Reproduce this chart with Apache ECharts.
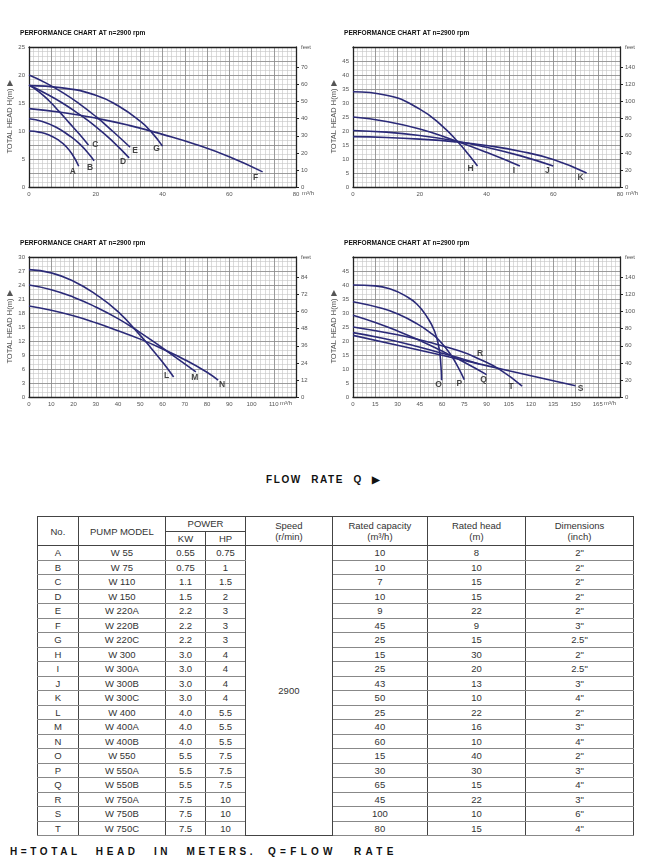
<!DOCTYPE html>
<html><head><meta charset="utf-8">
<script src="https://cdn.jsdelivr.net/npm/echarts@6/dist/echarts.min.js"></script>
<style>
html,body{margin:0;padding:0;background:#fff;width:650px;height:867px;overflow:hidden;}
#chart{position:absolute;left:0;top:0;width:650px;height:470px;}
.cap{position:absolute;font-family:'Liberation Sans',Arial,sans-serif;font-weight:bold;color:#111;white-space:nowrap;}
#flow{left:266px;top:474px;font-size:10px;letter-spacing:1.6px;word-spacing:5px;}
#foot1{left:10px;top:846px;font-size:10px;letter-spacing:3.6px;word-spacing:9px;}
#foot2{left:268px;top:846px;font-size:10px;letter-spacing:4.3px;word-spacing:10px;}
#tbl{position:absolute;left:37px;top:516px;width:596px;border-collapse:collapse;table-layout:fixed;
 font-family:'Liberation Sans',Arial,sans-serif;font-size:9.5px;color:#333;border:1.5px solid #333;}
#tbl td{padding:0;text-align:center;height:13.5px;line-height:13px;border-left:1px solid #444;border-right:1px solid #444;border-top:1.5px solid #888;border-bottom:1.5px solid #888;}
#tbl tr.h td{border-top:1px solid #444;border-bottom:1px solid #444;line-height:11px;}
#tbl td.sp{border-top:1px solid #444;border-bottom:1px solid #444;}
</style></head><body>
<div id="chart"></div>
<div id="flow" class="cap">FLOW RATE Q ▶</div>
<table id="tbl"></table>
<div id="foot1" class="cap">H=TOTAL HEAD IN METERS.</div>
<div id="foot2" class="cap">Q=FLOW RATE</div>
<script>
// ---------------- data: pump curves [flow m3/h, head m] ----------------
const curveA = [[0,10],[3,9.8],[6,9.3],[9,8.3],[11,7.3],[13,5.8],[14.9,3.7]];
const curveB = [[0,12.2],[4,11.7],[8,10.7],[12,9.2],[15,7.8],[17.5,6.2],[19.5,4.7]];
const curveC = [[0,18.2],[3,17],[6,15.4],[9,13.5],[12,11.5],[15,9.5],[17.8,7.5]];
const curveD = [[0,18.2],[5,16.7],[10,15],[15,13],[20,10.8],[25,8.2],[30,5.2]];
const curveE = [[0,20],[5,18.6],[10,16.9],[15,14.9],[20,12.6],[25,10],[30.3,7.1]];
const curveF = [[0,14],[10,13.3],[20,12.3],[30,11],[40,9.4],[50,7.6],[60,5.4],[70,2.7]];
const curveG = [[0,18.1],[10,17.7],[20,16.4],[26.7,14.5],[33.4,11.7],[36.7,9.8],[40,7.3]];
const curveH = [[0,34],[10,32.8],[20,27.8],[27,21.5],[31.5,16],[34.5,11.8],[37.3,7.5]];
const curveI = [[0,25],[10,23.4],[20,20.7],[30,16.8],[40,12.4],[50,7.5]];
const curveJ = [[0,20.2],[10,19.6],[20,18.4],[30,16.6],[40,14.2],[50,11.2],[60,7.5]];
const curveK = [[0,18],[10,17.7],[20,17.1],[30,16.2],[40,14.8],[50,12.8],[60,9.8],[70,5]];
const curveL = [[0,27.3],[10,26.6],[20,24.8],[30,22],[40,18.3],[50,13.2],[55,10.4],[60,7.5],[65,4.3]];
const curveM = [[0,24],[10,23],[20,21.4],[30,19.3],[40,16.8],[50,13.8],[60,10.5],[70,7.1],[75,5.4]];
const curveN = [[0,19.5],[10,18.6],[20,17.4],[30,15.9],[40,14.2],[50,12.4],[60,10.3],[70,8],[80,5.3],[85,3.6]];
const curveO = [[0,40],[15,39.7],[27,38.2],[35,36.2],[43,33.2],[50,28.5],[55,23.5],[58,17.5],[59.3,11],[59.7,6]];
const curveP = [[0,34],[20,31.6],[30,29.7],[43,26.2],[52,23],[58.5,20],[66,15],[71,10.5],[75,6.2]];
const curveQ = [[0,29.2],[15,26.6],[30,23.6],[45,20.2],[60,16.4],[75,12.4],[90,8]];
const curveR = [[0,23],[20,21],[40,18.5],[60,15.6],[75,13.4],[85,11.8]];
const curveS = [[0,22],[30,18.5],[60,14.9],[90,11.2],[120,7.6],[150,4]];
const curveT = [[0,25],[30,22.2],[50,19.7],[72,16.4],[85,13.6],[99,9.8],[114,3.9]];

// ---------------- data: axes ----------------
const panel1Curves = ['A','B','C','D','E','F','G'];
const panel2Curves = ['H','I','J','K'];
const panel3Curves = ['L','M','N'];
const panel4Curves = ['O','P','Q','R','S','T'];
const flowMax = [80, 80, 120, 180];
const flowStep = [20, 20, 10, 15];
const headMax = [25, 50, 30, 50];
const headStep = [5, 5, 3, 5];
const feetTicks1 = [0,10,20,30,40,50,60,70];
const feetTicks2 = [0,20,40,60,80,100,120,140];
const feetTicks3 = [0,12,24,36,48,60,72,84];
const feetTicks4 = [0,20,40,60,80,100,120,140];
const M_TO_FT = 3.28084;

// ---------------- data: table ----------------
const tableNo = ['A','B','C','D','E','F','G','H','I','J','K','L','M','N','O','P','Q','R','S','T'];
const tableModel = ['W 55','W 75','W 110','W 150','W 220A','W 220B','W 220C','W 300','W 300A','W 300B','W 300C','W 400','W 400A','W 400B','W 550','W 550A','W 550B','W 750A','W 750B','W 750C'];
const tableKW = ['0.55','0.75','1.1','1.5','2.2','2.2','2.2','3.0','3.0','3.0','3.0','4.0','4.0','4.0','5.5','5.5','5.5','7.5','7.5','7.5'];
const tableHP = ['0.75','1','1.5','2','3','3','3','4','4','4','4','5.5','5.5','5.5','7.5','7.5','7.5','10','10','10'];
const tableSpeed = '2900';
const tableCapacity = [10,10,7,10,9,45,25,15,25,43,50,25,40,60,15,30,65,45,100,80];
const tableHead = [8,10,15,15,22,9,15,30,20,13,10,22,16,10,40,30,15,22,10,15];
const tableDim = ['2"','2"','2"','2"','2"','3"','2.5"','2"','2.5"','3"','4"','2"','3"','4"','2"','3"','4"','3"','6"','4"'];

// ---------------- styles / layout ----------------
const curves = {A:curveA,B:curveB,C:curveC,D:curveD,E:curveE,F:curveF,G:curveG,H:curveH,I:curveI,J:curveJ,K:curveK,
  L:curveL,M:curveM,N:curveN,O:curveO,P:curveP,Q:curveQ,R:curveR,S:curveS,T:curveT};
const labelOffset = {A:[-6,5],B:[-4,7],C:[7,0],D:[-6,4],E:[5,3],F:[-7,6],G:[-6,3],
  H:[-7,3],I:[-6,5],J:[-6,5],K:[-6,5],L:[-7,-1],M:[-1,6],N:[4,4],
  O:[-3,4],P:[-5,4],Q:[-3,5],R:[1,-10],S:[5,3],T:[-11,1]};
const panelCurves = [panel1Curves, panel2Curves, panel3Curves, panel4Curves];
const feetTicks = [feetTicks1, feetTicks2, feetTicks3, feetTicks4];
const pos = [[29,47],[353,47],[29,257],[353,257]];
const PW = 267, PH = 140;
const LINE = '#2b2a78';
const FONT = "'Liberation Sans', Arial, sans-serif";

const grid = [], xAxis = [], yAxis = [], series = [], graphic = [];
for (let p = 0; p < 4; p++) {
  const [l, t] = pos[p];
  grid.push({left:l, top:t, width:PW, height:PH, outerBoundsMode:'none', show:false});
  const xb = xAxis.length, yb = yAxis.length;
  const hideMaxX = flowMax[p] > 80;
  xAxis.push({gridIndex:p, type:'value', min:0, max:flowMax[p], interval:flowStep[p], position:'bottom',
    axisLine:{show:true, onZero:false, lineStyle:{color:'#222', width:1.3}}, axisTick:{show:false}, splitLine:{show:false},
    axisLabel:{fontSize:6, color:'#555', margin:4, fontFamily:FONT, showMaxLabel:!hideMaxX}, z:3});
  xAxis.push({gridIndex:p, type:'value', min:0, max:60, interval:1, axisLine:{show:false}, axisTick:{show:false}, axisLabel:{show:false},
    splitLine:{show:true, lineStyle:{color:'#c4c4c4', width:0.6}}, z:0});
  xAxis.push({gridIndex:p, type:'value', min:0, max:12, interval:1, position:'top', axisLine:{show:true, onZero:false, lineStyle:{color:'#222', width:1.3}},
    axisTick:{show:false}, axisLabel:{show:false}, splitLine:{show:true, lineStyle:{color:'#8a8a8a', width:0.8}}, z:1});
  const hideMaxY = headMax[p] === 50;
  yAxis.push({gridIndex:p, type:'value', min:0, max:headMax[p], interval:headStep[p], position:'left',
    name:'TOTAL HEAD H(m) \u25B6', nameLocation:'middle', nameGap:10, nameRotate:90,
    nameTextStyle:{fontSize:7.5, color:'#555', fontFamily:FONT},
    axisLine:{show:true, onZero:false, lineStyle:{color:'#222', width:1.3}}, axisTick:{show:false}, splitLine:{show:false},
    axisLabel:{fontSize:6, color:'#555', margin:4, fontFamily:FONT, showMaxLabel:!hideMaxY}, z:3});
  yAxis.push({gridIndex:p, type:'value', min:0, max:headMax[p]*M_TO_FT, position:'right',
    axisLine:{show:true, onZero:false, lineStyle:{color:'#222', width:1.3}},
    axisTick:{show:true, length:3, customValues:feetTicks[p], lineStyle:{color:'#222', width:1}},
    axisLabel:{fontSize:6, color:'#555', margin:5, fontFamily:FONT, customValues:feetTicks[p]}, splitLine:{show:false}, z:3});
  yAxis.push({gridIndex:p, type:'value', min:0, max:30, interval:1, axisLine:{show:false}, axisTick:{show:false}, axisLabel:{show:false},
    splitLine:{show:true, lineStyle:{color:'#c4c4c4', width:0.6}}, z:0});
  yAxis.push({gridIndex:p, type:'value', min:0, max:10, interval:1, axisLine:{show:false}, axisTick:{show:false}, axisLabel:{show:false},
    splitLine:{show:true, lineStyle:{color:'#8a8a8a', width:0.8}}, z:1});

  for (const name of panelCurves[p]) {
    const d = curves[name];
    series.push({type:'line', name:name, xAxisIndex:xb, yAxisIndex:yb, data:d, smooth:0.5,
      showSymbol:false, symbol:'none', lineStyle:{color:LINE, width:1.6}, z:5, silent:true, animation:false});
    series.push({type:'scatter', xAxisIndex:xb, yAxisIndex:yb, data:[d[d.length-1]], symbolSize:1, itemStyle:{color:'rgba(0,0,0,0)'},
      label:{show:true, position:'inside', formatter:name, offset:labelOffset[name], fontSize:8.5, fontWeight:'bold', color:'#161616', fontFamily:FONT},
      z:6, silent:true, animation:false});
  }
  // titles and unit captions
  graphic.push({type:'text', left:l-9, top:t-17, style:{text:'PERFORMANCE CHART AT n=2900 rpm', font:"900 6.6px 'Liberation Sans', Arial", fill:'#111'}});
  graphic.push({type:'text', left:l+PW+5, top:t-3, style:{text:'feet', font:"6px 'Liberation Sans', Arial", fill:'#555'}});
  const unitX = hideMaxX ? l+PW-16 : l+PW+6;
  graphic.push({type:'text', left:unitX, top:t+PH+3, style:{text:'m\u00B3/h', font:"6px 'Liberation Sans', Arial", fill:'#555'}});
}

const chart = echarts.init(document.getElementById('chart'), null, {renderer:'canvas'});
chart.setOption({animation:false, backgroundColor:'#fff', grid, xAxis, yAxis, series, graphic});

// ---------------- table ----------------
const tbl = document.getElementById('tbl');
const colW = [40.8, 87.2, 40, 40, 86.8, 95.2, 98, 108];
let html = '<colgroup>' + colW.map(w => '<col style="width:' + w + 'px">').join('') + '</colgroup>';
html += '<tr class="h"><td rowspan="2">No.</td><td rowspan="2">PUMP MODEL</td><td colspan="2">POWER</td>' +
  '<td rowspan="2">Speed<br>(r/min)</td><td rowspan="2">Rated capacity<br>(m\u00B3/h)</td><td rowspan="2">Rated head<br>(m)</td><td rowspan="2">Dimensions<br>(inch)</td></tr>';
html += '<tr class="h"><td>KW</td><td>HP</td></tr>';
for (let i = 0; i < tableNo.length; i++) {
  html += '<tr><td>' + tableNo[i] + '</td><td>' + tableModel[i] + '</td><td>' + tableKW[i] + '</td><td>' + tableHP[i] + '</td>';
  if (i === 0) html += '<td class="sp" rowspan="' + tableNo.length + '">' + tableSpeed + '</td>';
  html += '<td>' + tableCapacity[i] + '</td><td>' + tableHead[i] + '</td><td>' + tableDim[i] + '</td></tr>';
}
tbl.innerHTML = html;
</script>
</body></html>
